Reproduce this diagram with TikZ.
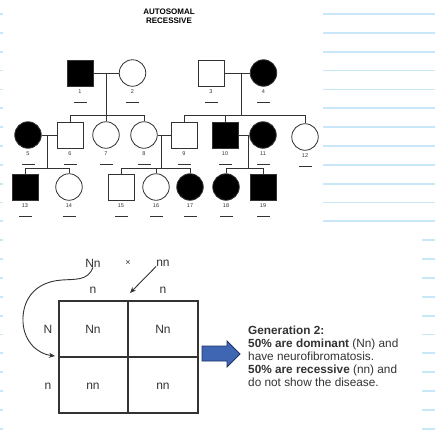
\documentclass[tikz,border=0pt]{standalone}
\usepackage{fontspec}
\setmainfont{Liberation Sans}
\usetikzlibrary{arrows.meta}
\definecolor{ruleblue}{HTML}{C8E8FA}
\definecolor{ink}{HTML}{333333}
\definecolor{arrowblue}{HTML}{3E66B3}
\definecolor{arrowedge}{HTML}{1F3566}
\tikzset{
  ped/.style={draw=ink, line width=0.8pt, inner sep=0pt},
  sq/.style={ped, rectangle, minimum size=26pt},
  ci/.style={ped, circle, minimum size=26.5pt},
  aff/.style={fill=black},
  num/.style={font=\fontsize{5.5}{6}\selectfont, text=ink, inner sep=0pt},
  uln/.style={rectangle, fill=ink, draw=none, inner sep=0pt, minimum width=13pt, minimum height=0.7pt},
  link/.style={draw=ink, line width=0.7pt},
  pun/.style={font=\fontsize{12}{13}\selectfont, text=ink, inner sep=0pt},
  grid/.style={draw=ink, line width=1.2pt},
  rule/.style={draw=ruleblue, line width=1.8pt},
}
\begin{document}
\begin{tikzpicture}[x=1pt,y=-1pt]
\useasboundingbox (0,0) rectangle (435,437);
\fill[white] (0,0) rectangle (435,437);
% notebook rules
\foreach \k in {0,...,22} {
  \draw[rule] (0,{14+18.85*\k}) -- (3,{14+18.85*\k});
}
\foreach \k in {0,...,11} {
  \draw[rule] (323,{14+18.85*\k}) -- (435,{14+18.85*\k});
}
\foreach \k in {12,...,22} {
  \draw[rule] (422,{14+18.85*\k}) -- (435,{14+18.85*\k});
}
% title
\node[font=\bfseries\fontsize{8}{9}\selectfont, align=center, inner sep=0pt] (title) at (169,16) {AUTOSOMAL\\RECESSIVE};
% generation 1
\node[sq,aff] (p1) at (80,73) {};
\node[ci] (p2) at (132.5,73) {};
\node[sq] (p3) at (211,73) {};
\node[ci,aff] (p4) at (263.5,73) {};
% generation 2
\node[ci,aff] (p5) at (28,135) {};
\node[sq] (p6) at (70,135) {};
\node[ci] (p7) at (106,135) {};
\node[ci] (p8) at (144,135) {};
\node[sq] (p9) at (184,135) {};
\node[sq,aff] (p10) at (225,135) {};
\node[ci,aff] (p11) at (263,135) {};
\node[ci] (p12) at (305,137) {};
% generation 3
\node[sq,aff] (p13) at (25,187) {};
\node[ci] (p14) at (69,187) {};
\node[sq] (p15) at (121,187) {};
\node[ci] (p16) at (156,187) {};
\node[ci,aff] (p17) at (190,187) {};
\node[ci,aff] (p18) at (226,187) {};
\node[sq,aff] (p19) at (263,187) {};
% numbers and underlines
\foreach \lab in {1,...,19} {
  \node[num] (n\lab) at ([yshift=-19pt]p\lab.center) {\lab};
  \node[uln] (u\lab) at ([yshift=-29pt]p\lab.center) {};
}
% marriages and descent
\coordinate (m12) at (106,73);
\coordinate (m34) at (241,73);
\coordinate (m56) at (47,135);
\coordinate (m89) at (161,135);
\coordinate (m1011) at (248,135);
\draw[link] (p1.east) -- (p2.west);
\draw[link] (p3.east) -- (p4.west);
\draw[link] (p5.east) -- (p6.west);
\draw[link] (p8.east) -- (p9.west);
\draw[link] (p10.east) -- (p11.west);
\draw[link] (m12) -- (p7.north);
\draw[link] (p6.north) -- ++(0,-6) -| (p8.north);
\draw[link] (m34) -- (241,116);
\draw[link] (p9.north) -- ++(0,-6) -| (p12.north);
\draw[link] (p10.north) -- ++(0,-6);
\draw[link] (m56) -- (47,169);
\draw[link] (p13.north) -- ++(0,-5) -| (p14.north);
\draw[link] (m89) -- (161,169);
\draw[link] (p15.north) -- ++(0,-5) -| (p17.north);
\draw[link] (p16.north) -- ++(0,-5);
\draw[link] (m1011) -- (248,169);
\draw[link] (p18.north) -- ++(0,-5) -| (p19.north);
% Punnett square
\draw[grid] (59,301) rectangle (198,413);
\draw[grid] (128,301) -- (128,413);
\draw[grid] (59,357) -- (198,357);
\node[pun] (pa) at (93,263) {Nn};
\node[pun] (px) at (128,263) {\fontsize{9}{10}\selectfont ×};
\node[pun] (pb) at (163,263) {nn};
\node[pun] (c1) at (93,290) {n};
\node[pun] (c2) at (163,290) {n};
\node[pun] (r1) at (48,329) {N};
\node[pun] (r2) at (48,386) {n};
\node[pun] (g11) at (93,329) {Nn};
\node[pun] (g12) at (163,329) {Nn};
\node[pun] (g21) at (93,386) {nn};
\node[pun] (g22) at (163,386) {nn};
\coordinate (tipN) at (55,356);
\coordinate (tipn) at (130,293);
\draw[ink, line width=0.9pt, -{Stealth[length=6pt,width=5pt]}]
  (pa.south) .. controls (88,281) and (75,279) .. (62,280)
  .. controls (32,282) and (22,303) .. (23,322)
  .. controls (24,342) and (38,354) .. (tipN);
\draw[ink, line width=0.9pt, -{Stealth[length=6pt,width=5pt]}] (pb.south west) -- (tipn);
% blue arrow
\draw[arrowedge, fill=arrowblue, line width=0.8pt]
  (202,346) -- (227,346) -- (227,341) -- (240,354) -- (227,367) -- (227,361) -- (202,361) -- cycle;
% text
\node[anchor=north west, align=left, inner sep=0pt, text=ink,
      font=\fontsize{11.8}{13}\selectfont] (txt) at (248,326)
  {\textbf{Generation 2:}\\
   \textbf{50\% are dominant} (Nn) and\\
   have neurofibromatosis.\\
   \textbf{50\% are recessive} (nn) and\\
   do not show the disease.};
\end{tikzpicture}
\end{document}
